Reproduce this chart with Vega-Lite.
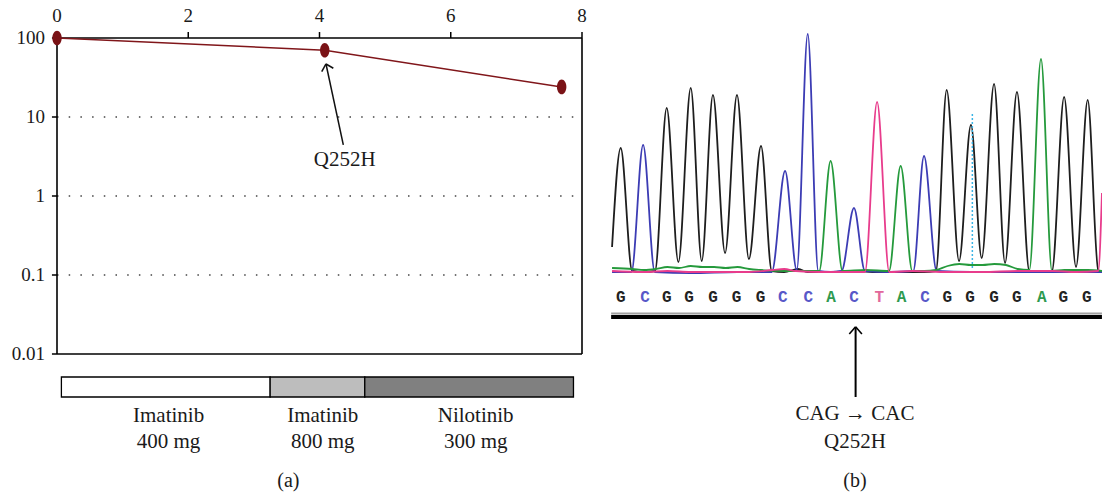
{
  "$schema": "https://vega.github.io/schema/vega-lite/v6.json",
  "width": 1102,
  "height": 492,
  "padding": 0,
  "autosize": {"type": "none"},
  "background": "#ffffff",
  "config": {"view": {"stroke": null}, "font": "Liberation Serif"},
  "datasets": {
    "panelA_course": [
      {"month": 0, "bcr_abl": 100},
      {"month": 4.08, "bcr_abl": 70},
      {"month": 7.69, "bcr_abl": 24}
    ],
    "panelA_grid": [{"level": 10}, {"level": 1}, {"level": 0.1}],
    "panelA_xticks": [{"month": 0}, {"month": 2}, {"month": 4}, {"month": 6}, {"month": 8}],
    "panelA_yticks": [{"level": 0.01}, {"level": 0.1}, {"level": 1}, {"level": 10}, {"level": 100}],
    "panelA_frame": [
      {"x_from": 0, "x_to": 8, "y_from": 0.01, "y_to": 0.01},
      {"x_from": 8, "x_to": 8, "y_from": 0.01, "y_to": 100},
      {"x_from": 0, "x_to": 8, "y_from": 100, "y_to": 100},
      {"x_from": 0, "x_to": 0, "y_from": 0.01, "y_to": 100}
    ],
    "panelA_notes": [{"mutation": "Q252H", "panel": "(a)"}],
    "regimens": [
      {"regimen": "Imatinib 400 mg", "drug": "Imatinib", "dose": "400 mg", "start": 0.067, "end": 3.248, "label_at": 1.7},
      {"regimen": "Imatinib 800 mg", "drug": "Imatinib", "dose": "800 mg", "start": 3.248, "end": 4.69, "label_at": 4.05},
      {"regimen": "Nilotinib 300 mg", "drug": "Nilotinib", "dose": "300 mg", "start": 4.69, "end": 7.87, "label_at": 6.38}
    ],
    "trace": [
      {"base": "G", "pos": -0.37, "signal": 26}, {"base": "G", "pos": 0, "signal": 125}, {"base": "G", "pos": 0.49, "signal": 2},
      {"base": "G", "pos": 1.0, "signal": 1}, {"base": "G", "pos": 1.47, "signal": 2}, {"base": "G", "pos": 1.97, "signal": 165},
      {"base": "G", "pos": 2.47, "signal": 11}, {"base": "G", "pos": 3.0, "signal": 185}, {"base": "G", "pos": 3.47, "signal": 12},
      {"base": "G", "pos": 3.95, "signal": 178}, {"base": "G", "pos": 4.47, "signal": 20}, {"base": "G", "pos": 4.98, "signal": 178},
      {"base": "G", "pos": 5.49, "signal": 14}, {"base": "G", "pos": 6.01, "signal": 127}, {"base": "G", "pos": 6.47, "signal": 2},
      {"base": "G", "pos": 7.0, "signal": 1}, {"base": "G", "pos": 7.6, "signal": 4}, {"base": "G", "pos": 8.0, "signal": 1},
      {"base": "G", "pos": 9.0, "signal": 1}, {"base": "G", "pos": 10.0, "signal": 2}, {"base": "G", "pos": 11.0, "signal": 1},
      {"base": "G", "pos": 12.0, "signal": 1}, {"base": "G", "pos": 13.0, "signal": 1}, {"base": "G", "pos": 13.5, "signal": 2},
      {"base": "G", "pos": 13.96, "signal": 183}, {"base": "G", "pos": 14.49, "signal": 12}, {"base": "G", "pos": 15.0, "signal": 148},
      {"base": "G", "pos": 15.46, "signal": 15}, {"base": "G", "pos": 15.99, "signal": 189}, {"base": "G", "pos": 16.46, "signal": 10},
      {"base": "G", "pos": 16.97, "signal": 181}, {"base": "G", "pos": 17.5, "signal": 2}, {"base": "G", "pos": 18.0, "signal": 1},
      {"base": "G", "pos": 18.47, "signal": 2}, {"base": "G", "pos": 18.99, "signal": 176}, {"base": "G", "pos": 19.5, "signal": 6},
      {"base": "G", "pos": 20.0, "signal": 173}, {"base": "G", "pos": 20.45, "signal": 3}, {"base": "G", "pos": 20.61, "signal": 1},

      {"base": "C", "pos": -0.37, "signal": 1}, {"base": "C", "pos": 0.46, "signal": 1}, {"base": "C", "pos": 0.96, "signal": 128},
      {"base": "C", "pos": 1.46, "signal": 1}, {"base": "C", "pos": 3.0, "signal": 0}, {"base": "C", "pos": 5.0, "signal": 1},
      {"base": "C", "pos": 6.47, "signal": 1}, {"base": "C", "pos": 7.04, "signal": 102}, {"base": "C", "pos": 7.54, "signal": 3},
      {"base": "C", "pos": 8.01, "signal": 239}, {"base": "C", "pos": 8.46, "signal": 2}, {"base": "C", "pos": 9.0, "signal": 1},
      {"base": "C", "pos": 9.46, "signal": 2}, {"base": "C", "pos": 9.99, "signal": 65}, {"base": "C", "pos": 10.46, "signal": 2},
      {"base": "C", "pos": 11.5, "signal": 1}, {"base": "C", "pos": 12.53, "signal": 2}, {"base": "C", "pos": 12.99, "signal": 117},
      {"base": "C", "pos": 13.53, "signal": 2}, {"base": "C", "pos": 15.0, "signal": 1}, {"base": "C", "pos": 17.0, "signal": 1},
      {"base": "C", "pos": 19.0, "signal": 1}, {"base": "C", "pos": 20.61, "signal": 1},

      {"base": "A", "pos": -0.37, "signal": 5}, {"base": "A", "pos": 0.5, "signal": 4}, {"base": "A", "pos": 1.0, "signal": 3},
      {"base": "A", "pos": 1.5, "signal": 4}, {"base": "A", "pos": 2.0, "signal": 6}, {"base": "A", "pos": 2.5, "signal": 5},
      {"base": "A", "pos": 3.0, "signal": 7}, {"base": "A", "pos": 3.5, "signal": 6}, {"base": "A", "pos": 4.0, "signal": 6},
      {"base": "A", "pos": 4.5, "signal": 5}, {"base": "A", "pos": 5.0, "signal": 6}, {"base": "A", "pos": 5.5, "signal": 4},
      {"base": "A", "pos": 6.0, "signal": 3}, {"base": "A", "pos": 7.0, "signal": 2}, {"base": "A", "pos": 8.0, "signal": 2},
      {"base": "A", "pos": 8.5, "signal": 2}, {"base": "A", "pos": 8.99, "signal": 112}, {"base": "A", "pos": 9.5, "signal": 2},
      {"base": "A", "pos": 10.5, "signal": 3}, {"base": "A", "pos": 11.49, "signal": 2}, {"base": "A", "pos": 11.99, "signal": 107},
      {"base": "A", "pos": 12.49, "signal": 2}, {"base": "A", "pos": 13.0, "signal": 2}, {"base": "A", "pos": 13.5, "signal": 3},
      {"base": "A", "pos": 14.0, "signal": 7}, {"base": "A", "pos": 14.5, "signal": 9}, {"base": "A", "pos": 15.0, "signal": 8},
      {"base": "A", "pos": 15.5, "signal": 8}, {"base": "A", "pos": 16.0, "signal": 9}, {"base": "A", "pos": 16.5, "signal": 8},
      {"base": "A", "pos": 17.0, "signal": 4}, {"base": "A", "pos": 17.5, "signal": 3}, {"base": "A", "pos": 18.0, "signal": 214},
      {"base": "A", "pos": 18.47, "signal": 2}, {"base": "A", "pos": 19.0, "signal": 3}, {"base": "A", "pos": 20.0, "signal": 3},
      {"base": "A", "pos": 20.61, "signal": 2},

      {"base": "T", "pos": -0.37, "signal": 2}, {"base": "T", "pos": 1.0, "signal": 1}, {"base": "T", "pos": 2.0, "signal": 2},
      {"base": "T", "pos": 3.0, "signal": 1}, {"base": "T", "pos": 4.5, "signal": 1}, {"base": "T", "pos": 5.5, "signal": 1},
      {"base": "T", "pos": 6.5, "signal": 3}, {"base": "T", "pos": 7.0, "signal": 4}, {"base": "T", "pos": 7.5, "signal": 2},
      {"base": "T", "pos": 8.5, "signal": 1}, {"base": "T", "pos": 9.5, "signal": 1}, {"base": "T", "pos": 10.46, "signal": 1},
      {"base": "T", "pos": 10.98, "signal": 171}, {"base": "T", "pos": 11.5, "signal": 1}, {"base": "T", "pos": 12.5, "signal": 2},
      {"base": "T", "pos": 14.0, "signal": 1}, {"base": "T", "pos": 15.5, "signal": 1}, {"base": "T", "pos": 17.0, "signal": 2},
      {"base": "T", "pos": 18.5, "signal": 2}, {"base": "T", "pos": 19.5, "signal": 1}, {"base": "T", "pos": 20.45, "signal": 2},
      {"base": "T", "pos": 20.61, "signal": 80}
    ],
    "basecalls": [
      {"pos": 0, "base": "G"}, {"pos": 1.04, "base": "C"}, {"pos": 1.97, "base": "G"}, {"pos": 2.93, "base": "G"},
      {"pos": 3.96, "base": "G"}, {"pos": 4.96, "base": "G"}, {"pos": 5.99, "base": "G"}, {"pos": 6.94, "base": "C"},
      {"pos": 8.03, "base": "C"}, {"pos": 9.01, "base": "A"}, {"pos": 9.99, "base": "C"}, {"pos": 11.07, "base": "T"},
      {"pos": 12.03, "base": "A"}, {"pos": 13.03, "base": "C"}, {"pos": 13.99, "base": "G"}, {"pos": 14.96, "base": "G"},
      {"pos": 15.99, "base": "G"}, {"pos": 16.96, "base": "G"}, {"pos": 18.03, "base": "A"}, {"pos": 18.95, "base": "G"},
      {"pos": 19.96, "base": "G"}
    ],
    "cursor": [{"pos": 15.06, "low": 5, "high": 160}],
    "panelB_track": [{"from": -0.41, "to": 20.61}],
    "panelB_notes": [{"codon": "CAG → CAC", "mutation": "Q252H", "panel": "(b)"}]
  },
  "resolve": {
    "scale": {"x": "independent", "y": "independent", "color": "independent", "fill": "independent"},
    "axis": {"x": "independent", "y": "independent"}
  },
  "layer": [
    {
      "layer": [
        {
          "data": {"name": "panelA_grid"},
          "mark": {"type": "rule", "color": "#444444", "strokeWidth": 1.3, "strokeDash": [1.5, 10.2]},
          "encoding": {
            "x": {"datum": 0, "type": "quantitative", "scale": {"type": "linear", "domain": [0, 8], "range": [57, 582], "zero": false, "nice": false}, "axis": null},
            "x2": {"datum": 8},
            "y": {"field": "level", "type": "quantitative", "scale": {"type": "log", "domain": [0.01, 100], "range": [354, 38], "nice": false}, "axis": null}
          }
        },
        {
          "data": {"name": "panelA_frame"},
          "mark": {"type": "rule", "color": "#000000", "strokeWidth": 1.6},
          "encoding": {
            "x": {"field": "x_from", "type": "quantitative", "scale": {"type": "linear", "domain": [0, 8], "range": [57, 582], "zero": false, "nice": false}, "axis": null},
            "x2": {"field": "x_to"},
            "y": {"field": "y_from", "type": "quantitative", "scale": {"type": "log", "domain": [0.01, 100], "range": [354, 38], "nice": false}, "axis": null},
            "y2": {"field": "y_to"}
          }
        },
        {
          "data": {"name": "panelA_xticks"},
          "mark": {"type": "rule", "color": "#000000", "strokeWidth": 1.5},
          "encoding": {
            "x": {"field": "month", "type": "quantitative", "scale": {"type": "linear", "domain": [0, 8], "range": [57, 582], "zero": false, "nice": false}, "axis": null},
            "y": {"datum": 100, "type": "quantitative", "scale": {"type": "log", "domain": [0.01, 100], "range": [354, 38], "nice": false}, "axis": null},
            "y2": {"datum": 119}
          }
        },
        {
          "data": {"name": "panelA_xticks"},
          "mark": {"type": "text", "font": "Liberation Serif", "fontSize": 19, "color": "#1a1a1a", "align": "center", "baseline": "alphabetic", "dy": -16},
          "encoding": {
            "x": {"field": "month", "type": "quantitative", "scale": {"type": "linear", "domain": [0, 8], "range": [57, 582], "zero": false, "nice": false}, "axis": null},
            "y": {"datum": 100, "type": "quantitative", "scale": {"type": "log", "domain": [0.01, 100], "range": [354, 38], "nice": false}, "axis": null},
            "text": {"field": "month", "type": "quantitative", "format": "d"}
          }
        },
        {
          "data": {"name": "panelA_yticks"},
          "mark": {"type": "rule", "color": "#000000", "strokeWidth": 1.5},
          "encoding": {
            "x": {"datum": 0, "type": "quantitative", "scale": {"type": "linear", "domain": [0, 8], "range": [57, 582], "zero": false, "nice": false}, "axis": null},
            "x2": {"datum": -0.077},
            "y": {"field": "level", "type": "quantitative", "scale": {"type": "log", "domain": [0.01, 100], "range": [354, 38], "nice": false}, "axis": null}
          }
        },
        {
          "data": {"name": "panelA_yticks"},
          "mark": {"type": "text", "font": "Liberation Serif", "fontSize": 19, "color": "#1a1a1a", "align": "right", "baseline": "middle", "dx": -12},
          "encoding": {
            "x": {"datum": 0, "type": "quantitative", "scale": {"type": "linear", "domain": [0, 8], "range": [57, 582], "zero": false, "nice": false}, "axis": null},
            "y": {"field": "level", "type": "quantitative", "scale": {"type": "log", "domain": [0.01, 100], "range": [354, 38], "nice": false}, "axis": null},
            "text": {"field": "level", "type": "quantitative", "format": "~g"}
          }
        },
        {
          "data": {"name": "panelA_course"},
          "mark": {"type": "line", "color": "#80161a", "strokeWidth": 1.5},
          "encoding": {
            "x": {"field": "month", "type": "quantitative", "scale": {"type": "linear", "domain": [0, 8], "range": [57, 582], "zero": false, "nice": false}, "axis": null},
            "y": {"field": "bcr_abl", "type": "quantitative", "scale": {"type": "log", "domain": [0.01, 100], "range": [354, 38], "nice": false}, "axis": null}
          }
        },
        {
          "data": {"name": "panelA_course"},
          "mark": {"type": "point", "shape": "M0,-1C0.3535,-1,0.64,-0.5523,0.64,0C0.64,0.5523,0.3535,1,0,1C-0.3535,1,-0.64,0.5523,-0.64,0C-0.64,-0.5523,-0.3535,-1,0,-1Z",
            "filled": true, "fill": "#7a1216", "size": 216, "opacity": 1, "strokeWidth": 0},
          "encoding": {
            "x": {"field": "month", "type": "quantitative", "scale": {"type": "linear", "domain": [0, 8], "range": [57, 582], "zero": false, "nice": false}, "axis": null},
            "y": {"field": "bcr_abl", "type": "quantitative", "scale": {"type": "log", "domain": [0.01, 100], "range": [354, 38], "nice": false}, "axis": null}
          }
        },
        {
          "data": {"name": "panelA_notes"},
          "mark": {"type": "rule", "color": "#111111", "strokeWidth": 1.5},
          "encoding": {
            "x": {"datum": 4.363, "type": "quantitative", "scale": {"type": "linear", "domain": [0, 8], "range": [57, 582], "zero": false, "nice": false}, "axis": null},
            "x2": {"datum": 4.099},
            "y": {"datum": 4.44, "type": "quantitative", "scale": {"type": "log", "domain": [0.01, 100], "range": [354, 38], "nice": false}, "axis": null},
            "y2": {"datum": 46.9}
          }
        },
        {
          "data": {"name": "panelA_notes"},
          "mark": {"type": "rule", "color": "#111111", "strokeWidth": 1.5},
          "encoding": {
            "x": {"datum": 4.099, "type": "quantitative", "scale": {"type": "linear", "domain": [0, 8], "range": [57, 582], "zero": false, "nice": false}, "axis": null},
            "x2": {"datum": 4.034},
            "y": {"datum": 46.9, "type": "quantitative", "scale": {"type": "log", "domain": [0.01, 100], "range": [354, 38], "nice": false}, "axis": null},
            "y2": {"datum": 37.5}
          }
        },
        {
          "data": {"name": "panelA_notes"},
          "mark": {"type": "rule", "color": "#111111", "strokeWidth": 1.5},
          "encoding": {
            "x": {"datum": 4.099, "type": "quantitative", "scale": {"type": "linear", "domain": [0, 8], "range": [57, 582], "zero": false, "nice": false}, "axis": null},
            "x2": {"datum": 4.211},
            "y": {"datum": 46.9, "type": "quantitative", "scale": {"type": "log", "domain": [0.01, 100], "range": [354, 38], "nice": false}, "axis": null},
            "y2": {"datum": 41.4}
          }
        },
        {
          "data": {"name": "panelA_notes"},
          "mark": {"type": "text", "font": "Liberation Serif", "fontSize": 21, "color": "#1a1a1a", "align": "center", "baseline": "middle"},
          "encoding": {
            "x": {"datum": 4.384, "type": "quantitative", "scale": {"type": "linear", "domain": [0, 8], "range": [57, 582], "zero": false, "nice": false}, "axis": null},
            "y": {"datum": 2.87, "type": "quantitative", "scale": {"type": "log", "domain": [0.01, 100], "range": [354, 38], "nice": false}, "axis": null},
            "text": {"field": "mutation"}
          }
        }
      ]
    },
    {
      "layer": [
        {
          "data": {"name": "regimens"},
          "mark": {"type": "rect", "stroke": "#000000", "strokeWidth": 1.3},
          "encoding": {
            "x": {"field": "start", "type": "quantitative", "scale": {"type": "linear", "domain": [0, 8], "range": [57, 582], "zero": false, "nice": false}, "axis": null},
            "x2": {"field": "end"},
            "y": {"datum": 0, "type": "quantitative", "scale": {"type": "linear", "domain": [0, 1], "range": [397, 377], "zero": false, "nice": false}, "axis": null},
            "y2": {"datum": 1},
            "fill": {"field": "regimen", "type": "nominal", "scale": {"domain": ["Imatinib 400 mg", "Imatinib 800 mg", "Nilotinib 300 mg"], "range": ["#ffffff", "#bdbdbd", "#808080"]}, "legend": null}
          }
        },
        {
          "data": {"name": "regimens"},
          "mark": {"type": "text", "font": "Liberation Serif", "fontSize": 21, "color": "#1a1a1a", "align": "center", "baseline": "alphabetic"},
          "encoding": {
            "x": {"field": "label_at", "type": "quantitative", "scale": {"type": "linear", "domain": [0, 8], "range": [57, 582], "zero": false, "nice": false}, "axis": null},
            "y": {"datum": -1.25, "type": "quantitative", "scale": {"type": "linear", "domain": [0, 1], "range": [397, 377], "zero": false, "nice": false}, "axis": null},
            "text": {"field": "drug"}
          }
        },
        {
          "data": {"name": "regimens"},
          "mark": {"type": "text", "font": "Liberation Serif", "fontSize": 21, "color": "#1a1a1a", "align": "center", "baseline": "alphabetic"},
          "encoding": {
            "x": {"field": "label_at", "type": "quantitative", "scale": {"type": "linear", "domain": [0, 8], "range": [57, 582], "zero": false, "nice": false}, "axis": null},
            "y": {"datum": -2.55, "type": "quantitative", "scale": {"type": "linear", "domain": [0, 1], "range": [397, 377], "zero": false, "nice": false}, "axis": null},
            "text": {"field": "dose"}
          }
        },
        {
          "data": {"name": "panelA_notes"},
          "mark": {"type": "text", "font": "Liberation Serif", "fontSize": 20, "color": "#1a1a1a", "align": "center", "baseline": "alphabetic"},
          "encoding": {
            "x": {"datum": 3.525, "type": "quantitative", "scale": {"type": "linear", "domain": [0, 8], "range": [57, 582], "zero": false, "nice": false}, "axis": null},
            "y": {"datum": -4.5, "type": "quantitative", "scale": {"type": "linear", "domain": [0, 1], "range": [397, 377], "zero": false, "nice": false}, "axis": null},
            "text": {"field": "panel"}
          }
        }
      ]
    },
    {
      "layer": [
        {
          "data": {"name": "trace"},
          "mark": {"type": "line", "interpolate": "monotone", "strokeWidth": 1.8},
          "encoding": {
            "x": {"field": "pos", "type": "quantitative", "scale": {"type": "linear", "domain": [0, 20], "range": [620.7, 1087.7], "zero": false, "nice": false}, "axis": null},
            "y": {"field": "signal", "type": "quantitative", "scale": {"type": "linear", "domain": [0, 243], "range": [273, 30], "zero": false, "nice": false}, "axis": null},
            "color": {"field": "base", "type": "nominal", "scale": {"domain": ["A", "T", "C", "G"], "range": ["#259a3c", "#e83c8c", "#3c3cb4", "#1e1e1e"]}, "legend": null}
          }
        },
        {
          "data": {"name": "cursor"},
          "mark": {"type": "rule", "color": "#3ab4e6", "strokeWidth": 1.5, "strokeDash": [2, 2]},
          "encoding": {
            "x": {"field": "pos", "type": "quantitative", "scale": {"type": "linear", "domain": [0, 20], "range": [620.7, 1087.7], "zero": false, "nice": false}, "axis": null},
            "y": {"field": "low", "type": "quantitative", "scale": {"type": "linear", "domain": [0, 243], "range": [273, 30], "zero": false, "nice": false}, "axis": null},
            "y2": {"field": "high"}
          }
        }
      ]
    },
    {
      "layer": [
        {
          "data": {"name": "basecalls"},
          "mark": {"type": "text", "font": "Liberation Mono", "fontSize": 16, "fontWeight": "bold", "align": "center", "baseline": "middle"},
          "encoding": {
            "x": {"field": "pos", "type": "quantitative", "scale": {"type": "linear", "domain": [0, 20], "range": [620.7, 1087.7], "zero": false, "nice": false}, "axis": null},
            "y": {"datum": 0, "type": "quantitative", "scale": {"type": "linear", "domain": [0, 1], "range": [297, 317], "zero": false, "nice": false}, "axis": null},
            "text": {"field": "base"},
            "color": {"field": "base", "type": "nominal", "scale": {"domain": ["A", "T", "C", "G"], "range": ["#2e9a50", "#e2689c", "#5858c8", "#222222"]}, "legend": null}
          }
        },
        {
          "data": {"name": "panelB_track"},
          "mark": {"type": "rule", "color": "#a0a0a0", "strokeWidth": 2},
          "encoding": {
            "x": {"field": "from", "type": "quantitative", "scale": {"type": "linear", "domain": [0, 20], "range": [620.7, 1087.7], "zero": false, "nice": false}, "axis": null},
            "x2": {"field": "to"},
            "y": {"datum": 0.83, "type": "quantitative", "scale": {"type": "linear", "domain": [0, 1], "range": [297, 317], "zero": false, "nice": false}, "axis": null}
          }
        },
        {
          "data": {"name": "panelB_track"},
          "mark": {"type": "rule", "color": "#000000", "strokeWidth": 4},
          "encoding": {
            "x": {"field": "from", "type": "quantitative", "scale": {"type": "linear", "domain": [0, 20], "range": [620.7, 1087.7], "zero": false, "nice": false}, "axis": null},
            "x2": {"field": "to"},
            "y": {"datum": 1.0, "type": "quantitative", "scale": {"type": "linear", "domain": [0, 1], "range": [297, 317], "zero": false, "nice": false}, "axis": null}
          }
        },
        {
          "data": {"name": "panelB_notes"},
          "mark": {"type": "rule", "color": "#000000", "strokeWidth": 2},
          "encoding": {
            "x": {"datum": 10.06, "type": "quantitative", "scale": {"type": "linear", "domain": [0, 20], "range": [620.7, 1087.7], "zero": false, "nice": false}, "axis": null},
            "y": {"datum": 5.0, "type": "quantitative", "scale": {"type": "linear", "domain": [0, 1], "range": [297, 317], "zero": false, "nice": false}, "axis": null},
            "y2": {"datum": 1.5}
          }
        },
        {
          "data": {"name": "panelB_notes"},
          "mark": {"type": "rule", "color": "#000000", "strokeWidth": 1.6},
          "encoding": {
            "x": {"datum": 10.06, "type": "quantitative", "scale": {"type": "linear", "domain": [0, 20], "range": [620.7, 1087.7], "zero": false, "nice": false}, "axis": null},
            "x2": {"datum": 9.79},
            "y": {"datum": 1.485, "type": "quantitative", "scale": {"type": "linear", "domain": [0, 1], "range": [297, 317], "zero": false, "nice": false}, "axis": null},
            "y2": {"datum": 1.85}
          }
        },
        {
          "data": {"name": "panelB_notes"},
          "mark": {"type": "rule", "color": "#000000", "strokeWidth": 1.6},
          "encoding": {
            "x": {"datum": 10.06, "type": "quantitative", "scale": {"type": "linear", "domain": [0, 20], "range": [620.7, 1087.7], "zero": false, "nice": false}, "axis": null},
            "x2": {"datum": 10.33},
            "y": {"datum": 1.485, "type": "quantitative", "scale": {"type": "linear", "domain": [0, 1], "range": [297, 317], "zero": false, "nice": false}, "axis": null},
            "y2": {"datum": 1.85}
          }
        },
        {
          "data": {"name": "panelB_notes"},
          "mark": {"type": "text", "font": "Liberation Serif", "fontSize": 21, "color": "#1a1a1a", "align": "center", "baseline": "alphabetic"},
          "encoding": {
            "x": {"datum": 10.03, "type": "quantitative", "scale": {"type": "linear", "domain": [0, 20], "range": [620.7, 1087.7], "zero": false, "nice": false}, "axis": null},
            "y": {"datum": 6.15, "type": "quantitative", "scale": {"type": "linear", "domain": [0, 1], "range": [297, 317], "zero": false, "nice": false}, "axis": null},
            "text": {"field": "codon"}
          }
        },
        {
          "data": {"name": "panelB_notes"},
          "mark": {"type": "text", "font": "Liberation Serif", "fontSize": 21, "color": "#1a1a1a", "align": "center", "baseline": "alphabetic"},
          "encoding": {
            "x": {"datum": 10.03, "type": "quantitative", "scale": {"type": "linear", "domain": [0, 20], "range": [620.7, 1087.7], "zero": false, "nice": false}, "axis": null},
            "y": {"datum": 7.54, "type": "quantitative", "scale": {"type": "linear", "domain": [0, 1], "range": [297, 317], "zero": false, "nice": false}, "axis": null},
            "text": {"field": "mutation"}
          }
        },
        {
          "data": {"name": "panelB_notes"},
          "mark": {"type": "text", "font": "Liberation Serif", "fontSize": 20, "color": "#1a1a1a", "align": "center", "baseline": "alphabetic"},
          "encoding": {
            "x": {"datum": 10.03, "type": "quantitative", "scale": {"type": "linear", "domain": [0, 20], "range": [620.7, 1087.7], "zero": false, "nice": false}, "axis": null},
            "y": {"datum": 9.5, "type": "quantitative", "scale": {"type": "linear", "domain": [0, 1], "range": [297, 317], "zero": false, "nice": false}, "axis": null},
            "text": {"field": "panel"}
          }
        }
      ]
    }
  ]
}
